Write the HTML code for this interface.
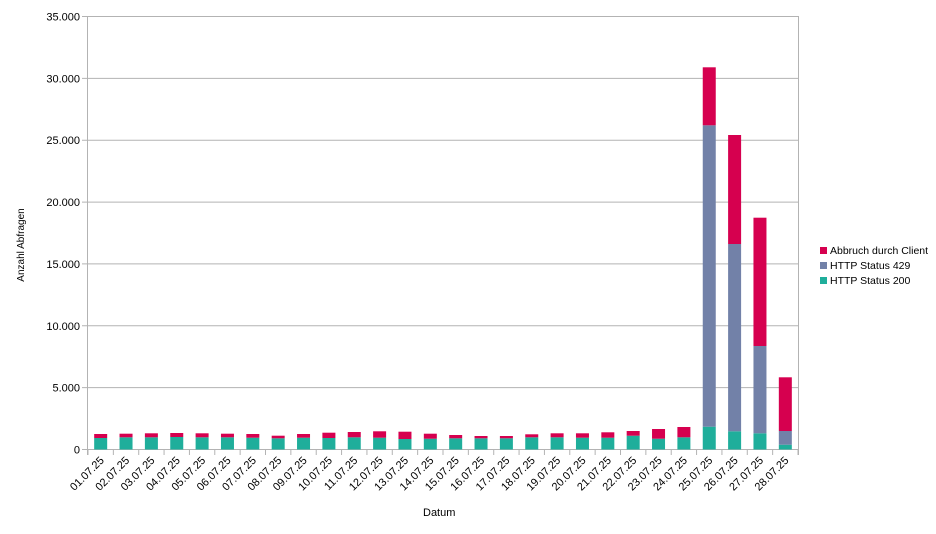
<!DOCTYPE html>
<html><head><meta charset="utf-8"><style>body{margin:0;background:#fff}svg{display:block;font-family:"Liberation Sans",sans-serif}</style></head>
<body>
<svg id="c" width="936" height="534" xmlns="http://www.w3.org/2000/svg"></svg>
<script>
const s=document.getElementById('c');let h='';
const y0=449.5,ppu=433/35000;
for(let i=0;i<=7;i++){const y=y0-i*5000*ppu;
 h+=`<line x1="82" x2="798" y1="${y}" y2="${y}" stroke="#b3b3b3"/>`;
 h+=`<text x="80" y="${y+4}" font-size="11" text-anchor="end" fill="#000">${i==0?'0':(i*5)+'.000'}</text>`;}
h+=`<line x1="87.5" x2="87.5" y1="16" y2="455" stroke="#b3b3b3"/><line x1="798.5" x2="798.5" y1="16" y2="455" stroke="#b3b3b3"/>`;
const d=[[438,434],[437.3,433.7],[437.3,433.3],[437,433],[437.3,433.3],[437.3,433.7],[437.7,434],[438.3,435.7],[437.7,434],[438,432.7],[437.3,432],[437.7,431.3],[439,431.7],[438.7,433.7],[438.3,435],[438.3,436],[438.3,436],[437.3,434.3],[437.3,433.3],[437.7,433.3],[437.7,432.3],[435.7,431],[438.7,429],[437.3,427],[426.7,67.3,125.3],[431.3,135,244],[433.3,217.7,346],[444.7,377.3,431]];
const cw=(798-88)/28;
d.forEach((v,i)=>{const cx=88+cw*(i+0.5),x=cx-6.5;
 const g=v[0],t=v[1],b=v[2]||g;
 h+=`<rect x="${x}" y="${g}" width="13" height="${y0-g}" fill="#1fae9b"/>`;
 if(v[2])h+=`<rect x="${x}" y="${b}" width="13" height="${g-b}" fill="#7281a8"/>`;
 h+=`<rect x="${x}" y="${t}" width="13" height="${b-t}" fill="#d6004f"/>`;
 const tx=88+cw*(i+1);h+=`<line x1="${tx}" x2="${tx}" y1="449.5" y2="455" stroke="#b3b3b3"/>`;
 const dd=String(i+1).padStart(2,'0');
 h+=`<text transform="translate(${cx+4},${461}) rotate(-45)" font-size="11" text-anchor="end">${dd}.07.25</text>`;});
h+=`<line x1="88" x2="88" y1="449.5" y2="455" stroke="#b3b3b3"/>`;
h+=`<text x="423" y="516" font-size="11">Datum</text>`;
h+=`<text transform="translate(24,245) rotate(-90)" font-size="10" text-anchor="middle">Anzahl Abfragen</text>`;
[['#d6004f','Abbruch durch Client'],['#7281a8','HTTP Status 429'],['#1fae9b','HTTP Status 200']].forEach((l,i)=>{const y=247+i*15;
 h+=`<rect x="820" y="${y}" width="7" height="7" fill="${l[0]}"/><text x="830" y="${y+7}" font-size="10.5">${l[1]}</text>`;});
s.innerHTML=h;
</script>
</body></html>
